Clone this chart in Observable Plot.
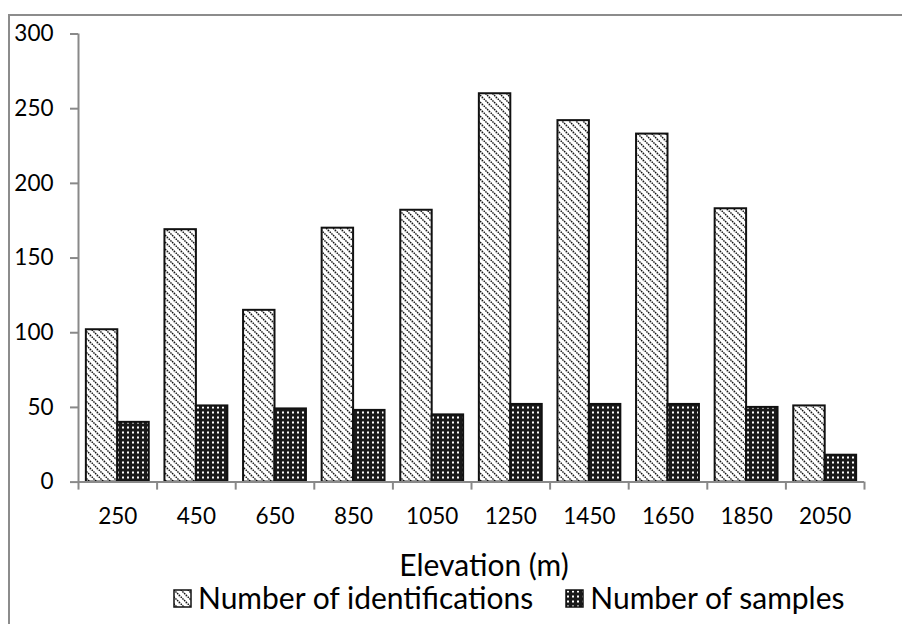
<!DOCTYPE html>
<html>
<head>
<meta charset="utf-8">
<script src="https://cdn.jsdelivr.net/npm/d3@7"></script>
<script src="https://cdn.jsdelivr.net/npm/@observablehq/plot@0.6"></script>
<style>
  html, body { margin: 0; padding: 0; background: #fff; overflow: hidden; }
  #wrap { position: relative; width: 902px; height: 624px; overflow: hidden; font-family: Lato, "Open Sans", sans-serif; color: #000; }
  #border { position: absolute; left: 8px; top: 14px; width: 1000px; height: 700px; border-left: 2px solid #8c8c8c; border-top: 2px solid #8c8c8c; box-sizing: border-box; }
  #chart { position: absolute; left: 0; top: 0; }
  #xtitle { position: absolute; left: 0; width: 968px; text-align: center; top: 549px; font-size: 30px; line-height: 1; white-space: nowrap; }
  #legend { position: absolute; left: 173px; top: 582px; font-size: 30px; line-height: 1; white-space: nowrap; display: flex; align-items: center; }
  #legend .item { display: flex; align-items: center; }
  #legend .item + .item { margin-left: 32px; }
  #legend svg { margin-right: 6px; margin-top: 3px; }
</style>
</head>
<body>
<div id="wrap">
  <div id="border"></div>
  <div id="chart"></div>
  <div id="xtitle"></div>
  <div id="legend"></div>
</div>
<script>
// ---- data ----
const elevations = [250, 450, 650, 850, 1050, 1250, 1450, 1650, 1850, 2050];
const identifications = [102, 169, 115, 170, 182, 260, 242, 233, 183, 51];
const samples = [40, 51, 49, 48, 45, 52, 52, 52, 50, 18];
const yTicks = [0, 50, 100, 150, 200, 250, 300];
const seriesNames = ["Number of identifications", "Number of samples"];
const xTitle = "Elevation (m)";

const step = elevations[1] - elevations[0];      // elevation band size
const barSpan = step * 0.4;                        // each bar spans 40% of a band
const rows = elevations.map((e, i) => ({elevation: e, ids: identifications[i], samples: samples[i]}));
const boundaries = elevations.map(e => e - step / 2).concat(elevations[elevations.length - 1] + step / 2);
const xDomain = [boundaries[0], boundaries[boundaries.length - 1]];

const axisColor = "#898989";
const H = 545;

const plot = Plot.plot({
  width: 902,
  height: H,
  marginLeft: 78,
  marginRight: 38,
  marginTop: 33.5,
  marginBottom: H - 481.6,
  style: {fontFamily: "Lato, 'Open Sans', sans-serif", fontSize: "22.5px", color: "#000", background: "transparent", overflow: "visible"},
  x: {type: "linear", domain: xDomain},
  y: {domain: [yTicks[0], yTicks[yTicks.length - 1]]},
  marks: [
    Plot.rect(rows, {x1: d => d.elevation - barSpan, x2: d => d.elevation, y1: 0, y2: "ids",
      fill: "url(#hatchPat)", stroke: "#111", strokeWidth: 2}),
    Plot.rect(rows, {x1: d => d.elevation, x2: d => d.elevation + barSpan, y1: 0, y2: "samples",
      fill: "url(#dotPat)", stroke: "#111", strokeWidth: 2}),
    Plot.ruleX([xDomain[0]], {y1: yTicks[0], y2: yTicks[yTicks.length - 1], stroke: axisColor, strokeWidth: 2}),
    Plot.ruleY([0], {x1: xDomain[0], x2: xDomain[1], stroke: axisColor, strokeWidth: 2}),
    Plot.axisY({ticks: yTicks, tickSize: 8, tickPadding: 17, stroke: axisColor, strokeWidth: 2, fill: "#000", label: null, fontSize: 22.5}),
    Plot.axisX({ticks: boundaries, tickSize: 8, tickFormat: () => "", stroke: axisColor, strokeWidth: 2, label: null}),
    Plot.axisX({ticks: elevations, tickSize: 0, tickPadding: 26, tickFormat: d => String(d), fill: "#000", label: null, fontSize: 22.5})
  ]
});

// patterns
const svgNS = "http://www.w3.org/2000/svg";
const defs = document.createElementNS(svgNS, "defs");
defs.innerHTML = `
  <pattern id="hatchPat" patternUnits="userSpaceOnUse" width="7" height="7">
    <rect width="7" height="7" fill="#fff"/>
    <path d="M-1,-1 L8,8 M-4.5,2.5 L1,8 M5.5,-1 L8,1.5" stroke="#111" stroke-width="1.4" stroke-dasharray="1.6 0.8"/>
  </pattern>
  <pattern id="dotPat" patternUnits="userSpaceOnUse" width="5" height="5">
    <rect width="5" height="5" fill="#1a1a1a"/>
    <rect x="2" y="1.5" width="2" height="2" fill="#fff"/>
  </pattern>`;
plot.insertBefore(defs, plot.firstChild);
document.getElementById("chart").appendChild(plot);

document.getElementById("xtitle").textContent = xTitle;

const legend = document.getElementById("legend");
[["url(#hatchPat)", seriesNames[0]], ["url(#dotPat)", seriesNames[1]]].forEach(([fill, name]) => {
  const item = document.createElement("div");
  item.className = "item";
  item.innerHTML = `<svg width="19" height="19"><rect x="1" y="1" width="17" height="17" fill="${fill}" stroke="#111" stroke-width="1.5"/></svg><span>${name}</span>`;
  legend.appendChild(item);
});
</script>
</body>
</html>
